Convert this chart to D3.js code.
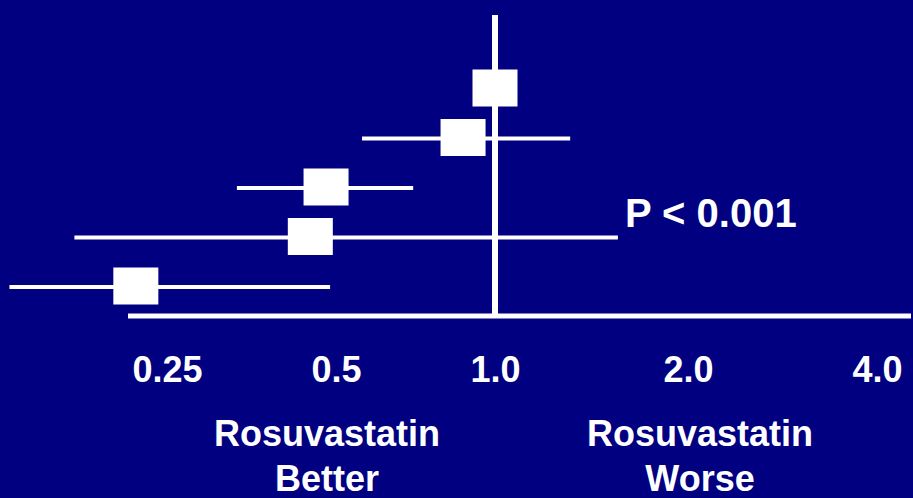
<!DOCTYPE html>
<html>
<head>
<meta charset="utf-8">
<script src="https://cdn.jsdelivr.net/npm/d3@7"></script>
<style>
  html, body { margin: 0; padding: 0; background: #000080; overflow: hidden; }
  svg { display: block; }
  text { font-family: "Liberation Sans", Arial, sans-serif; font-weight: bold; fill: #fff; }
</style>
</head>
<body>
<svg id="chart" width="913" height="498"></svg>
<script>
// Hazard ratios with 95% confidence intervals, one row per subgroup (top to bottom)
const rows     = ["r1", "r2", "r3", "r4", "r5"];
const estimate = [1.00, 0.87, 0.48, 0.45, 0.22];
const lower    = [0.92, 0.56, 0.333, 0.171, 0.131];
const upper    = [1.08, 1.31, 0.70, 1.555, 0.488];

// Axis ticks and their printed labels
const tickValues = [0.25, 0.5, 1, 2, 4];
const tickLabels = ["0.25", "0.5", "1.0", "2.0", "4.0"];

const pLabel = "P < 0.001";
const betterLabel = ["Rosuvastatin", "Better"];
const worseLabel  = ["Rosuvastatin", "Worse"];

const W = 913, H = 498;
const svg = d3.select("#chart");

svg.append("rect").attr("width", W).attr("height", H).attr("fill", "#000080");

// Log scale, laid out tick by tick
const x = d3.scaleLog()
  .domain(tickValues)
  .range([167, 336, 495, 688, 877]);

const y = d3.scalePoint()
  .domain(rows)
  .range([88, 286]);

const axisY = 316;
const plotLeft = 128, plotRight = 911;
const refTop = 15;

// Reference line at HR = 1
svg.append("line")
  .attr("x1", x(1)).attr("x2", x(1))
  .attr("y1", refTop).attr("y2", axisY)
  .attr("stroke", "#fff").attr("stroke-width", 6);

// Horizontal axis line
svg.append("line")
  .attr("x1", plotLeft).attr("x2", plotRight)
  .attr("y1", axisY).attr("y2", axisY)
  .attr("stroke", "#fff").attr("stroke-width", 5);

const data = rows.map((r, i) => ({ row: r, est: estimate[i], lo: lower[i], hi: upper[i] }));

// Confidence interval whiskers
svg.append("g").selectAll("line")
  .data(data)
  .join("line")
  .attr("x1", d => x(d.lo))
  .attr("x2", d => x(d.hi))
  .attr("y1", d => y(d.row) + 1)
  .attr("y2", d => y(d.row) + 1)
  .attr("stroke", "#fff")
  .attr("stroke-width", 4);

// Point estimates
const boxW = 45, boxH = 37;
svg.append("g").selectAll("rect")
  .data(data)
  .join("rect")
  .attr("x", d => x(d.est) - boxW / 2)
  .attr("y", d => y(d.row) - boxH / 2)
  .attr("width", boxW)
  .attr("height", boxH)
  .attr("fill", "#fff");

// Tick labels
const axis = d3.axisBottom(x)
  .tickValues(tickValues)
  .tickSize(0)
  .tickFormat((d, i) => tickLabels[i]);

const gAxis = svg.append("g")
  .attr("transform", `translate(0,382)`)
  .call(axis);
gAxis.select(".domain").remove();
gAxis.selectAll("text")
  .attr("y", 0).attr("dy", 0)
  .style("font-family", "'Liberation Sans', Arial, sans-serif")
  .style("font-weight", "bold")
  .style("font-size", "36px")
  .attr("fill", "#fff");

// P value
svg.append("text")
  .attr("x", 625).attr("y", 227)
  .style("font-size", "40px")
  .text(pLabel);

// Direction captions
function caption(lines, cx) {
  const t = svg.append("text")
    .attr("text-anchor", "middle")
    .style("font-size", "36px");
  lines.forEach((s, i) => {
    t.append("tspan").attr("x", cx).attr("y", 446 + i * 45).text(s);
  });
}
caption(betterLabel, 327);
caption(worseLabel, 700);
</script>
</body>
</html>
